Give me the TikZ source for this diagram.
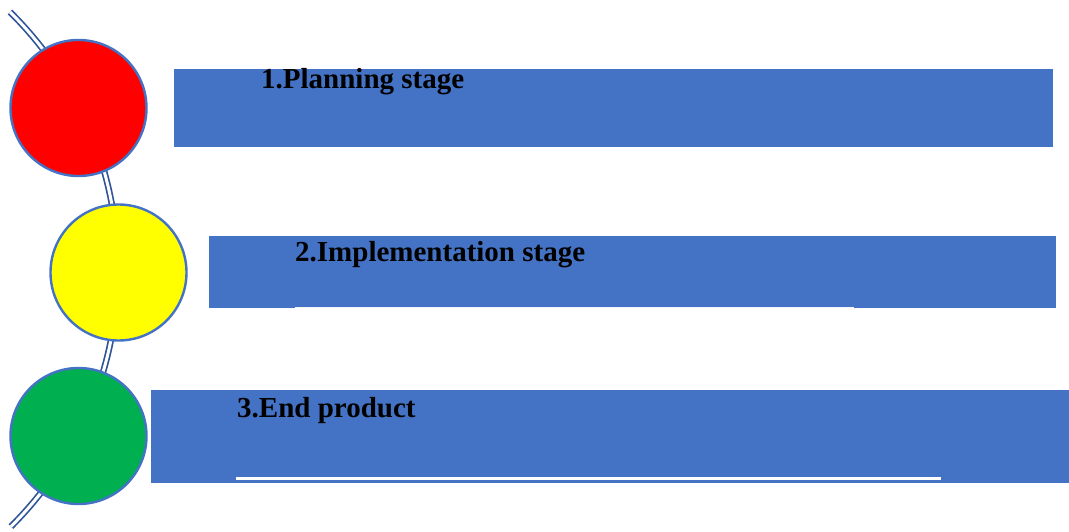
\documentclass[tikz,border=0pt]{standalone}
\usepackage{fontspec}
\setmainfont{Liberation Serif}
\definecolor{boxblue}{HTML}{4472C4}
\definecolor{arcblue}{HTML}{2F5597}
\definecolor{lampred}{HTML}{FF0000}
\definecolor{lampyellow}{HTML}{FFFF00}
\definecolor{lampgreen}{HTML}{00B050}
\definecolor{rulewhite}{HTML}{F2F5FB}
\tikzset{
  lamp/.style={circle, draw=boxblue, line width=2.4pt, minimum size=136pt, inner sep=0pt},
  stagebox/.style={fill=boxblue, draw=none},
  stagetext/.style={anchor=base west, inner sep=0pt, font=\fontsize{29}{34}\selectfont\bfseries},
  spine/.style={draw=arcblue, double=white, line width=1.7pt, double distance=3pt},
  underline/.style={draw=rulewhite, line width=1.2pt}
}
\begin{document}
\begin{tikzpicture}[x=1pt,y=-1pt]
\useasboundingbox (0,0) rectangle (1069,532);
% spine arc
\coordinate (arctop) at (10,12);
\draw[spine] (arctop) arc[start angle=-45.4, end angle=45.2, radius=362];
% boxes
\fill[stagebox] (174,69) rectangle (1053,147);
\fill[stagebox] (209,236) rectangle (1056,308);
\fill[stagebox] (151,390) rectangle (1069,483);
% underlines
\coordinate (u2a) at (295,307.3);
\coordinate (u2b) at (854,307.3);
\draw[underline, line width=1pt] (u2a) -- (u2b);
\coordinate (u3a) at (236,478.5);
\coordinate (u3b) at (941,478.5);
\draw[underline, draw=white, line width=2.2pt] (u3a) -- (u3b);
% lamps
\node[lamp, fill=lampred] (red) at (78.5,108) {};
\node[lamp, fill=lampyellow] (yellow) at (118.5,272.5) {};
\node[lamp, fill=lampgreen] (green) at (78.5,436) {};
% texts
\node[stagetext] (t1) at (261,89) {1.Planning stage};
\node[stagetext] (t2) at (295,261) {2.Implementation stage};
\node[stagetext] (t3) at (237,417) {3.End product};
\end{tikzpicture}
\end{document}
